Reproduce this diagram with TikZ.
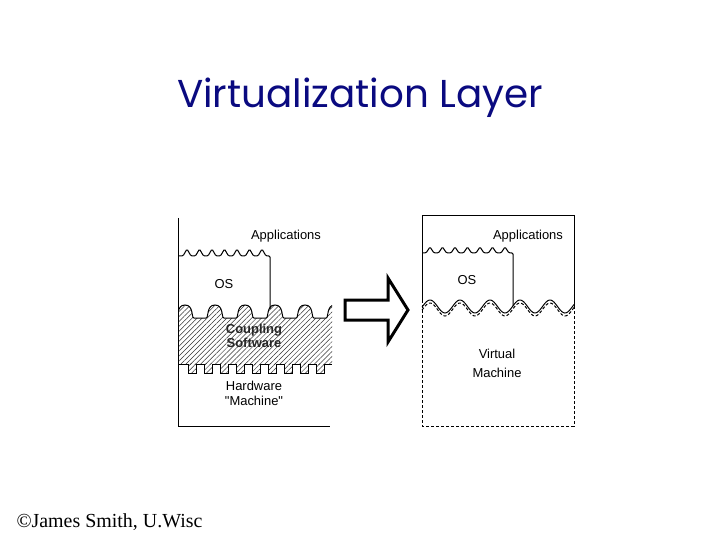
\documentclass[tikz,border=0pt]{standalone}
\usepackage{fontspec}
\setmainfont{Liberation Serif}
\newfontfamily\diagfont{Liberation Sans}
\newfontfamily\titlefont{Poppins}
\usetikzlibrary{patterns.meta}
\definecolor{titleblue}{RGB}{10,10,128}

\begin{document}
\begin{tikzpicture}[x=1bp,y=-1bp,line width=1bp,
  lbl/.style={font=\diagfont\fontsize{13}{15}\selectfont,anchor=base,inner sep=0pt},
  dashline/.style={dash pattern=on 3bp off 2bp},
  hatch/.style={pattern={Lines[angle=45,distance=3.5bp,line width=0.5bp]},pattern color=black!80}]
\useasboundingbox (0,0) rectangle (720,540);

\node[font=\titlefont\fontsize{39}{44}\selectfont,text=titleblue,anchor=base,inner sep=0pt] (title) at (360,108) {Virtualization Layer};

% left: coupling software
\begin{scope}
\clip (178,290) rectangle (332,364);
\draw[hatch] (140,380) -- (140,318)
  \foreach \c in {155,185,...,335} { -- (\c-9,318) .. controls (\c-6,318) and (\c-9,305) .. (\c,305) .. controls (\c+9,305) and (\c+6,318) .. (\c+9,318) }
  -- (345,318) -- (345,380) -- cycle;
\end{scope}
\foreach \k in {0,...,8}
  \fill[hatch] (188+16*\k,363) rectangle (196+16*\k,373);
\draw (178,364) \foreach \k in {0,...,8} { -- (188+16*\k,364) -- (188+16*\k,373) -- (196+16*\k,373) -- (196+16*\k,364) } -- (332,364);
\draw (178,218) -- (178,426) -- (330,426);
\draw[rounded corners=1.2bp] (178,256) \foreach \c in {187,199.5,...,262} { -- (\c-4,256) -- (\c,249) -- (\c+4,256) } -- (270,256) -- (270,309);

\node[lbl] (appsL) at (286,240) {Applications};
\node[lbl] (osL) at (224,288) {OS};
\node[lbl,font=\diagfont\bfseries\fontsize{13}{15}\selectfont,text=black!85] (coupling) at (254,333) {Coupling};
\node[lbl,font=\diagfont\bfseries\fontsize{13}{15}\selectfont,text=black!85] (software) at (254,347) {Software};
\node[lbl] (hw) at (254,390) {Hardware};
\node[lbl] (machL) at (254,405) {"Machine"};

% arrow
\draw[line width=3bp,line join=miter] (345,300) -- (388,300) -- (388,278) -- (408,310) -- (388,342) -- (388,320) -- (345,320) -- cycle;

% right: virtual machine
\draw (422,300) -- (422,216) -- (574,216) -- (574,308);
\draw[dashline] (422,300) -- (422,426) -- (574,426) -- (574,308);
\draw plot[domain=422:574,samples=100,smooth] (\x,{306.5-6.5*cos(12*(\x-430))});
\draw[dashline] plot[domain=422:574,samples=100,smooth] (\x,{309.5-6.5*cos(12*(\x-430))});
\draw[rounded corners=1.2bp] (422,253) \foreach \c in {430,442.5,...,505} { -- (\c-4,253) -- (\c,247) -- (\c+4,253) } -- (513,253) -- (513,306);

\node[lbl] (appsR) at (528,240) {Applications};
\node[lbl] (osR) at (467,285) {OS};
\node[lbl] (virt) at (497,358) {Virtual};
\node[lbl] (machR) at (497,377) {Machine};

\node[font=\fontsize{20}{22}\selectfont,anchor=base west,inner sep=0pt] (credit) at (16,527) {©James Smith, U.Wisc};
\end{tikzpicture}
\end{document}
